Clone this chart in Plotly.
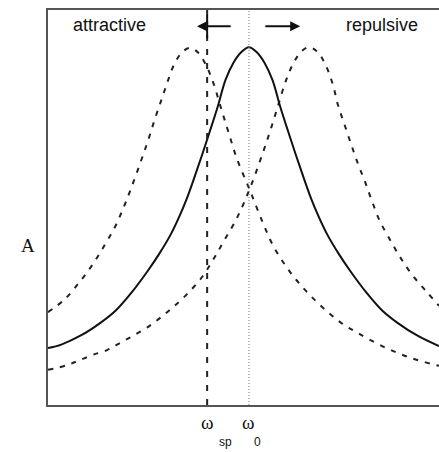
import plotly.graph_objects as go

# Frequency axis (arbitrary units 0..100), amplitude axis (0..100)
solid_x = [0, 3.4, 8.4, 13.4, 17.4, 21.4, 25.4, 28.4, 31.4, 33.4, 35.4, 37.4, 39.4, 41.4, 43.4, 45.4, 47.4, 49.4, 51.4,
           53.4, 55.4, 57.4, 59.4, 61.4, 63.4, 65.4, 67.4, 69.4, 71.4, 74.4, 77.4, 81.4, 85.4, 89.4, 94.4, 100]
solid_y = [14.4, 15.3, 17.6, 20.8, 24.0, 28.5, 33.8, 38.2, 43.2, 47.3, 52.0, 57.5, 63.3, 69.3, 75.5, 82.3, 86.6, 89.3, 90.6,
           89.3, 86.6, 82.3, 75.5, 69.3, 63.3, 57.5, 52.0, 47.3, 43.2, 38.2, 33.8, 28.5, 24.0, 20.8, 17.6, 14.9]

attr_x = [0, 4.3, 8.2, 11.5, 14.6, 17.1, 19.2, 21.0, 23.5, 25.6, 27.4, 29.2, 30.7, 32.3, 34.3, 36.3,
          38.3, 40.3, 42.3, 44.3, 46.3, 48.3, 51.7, 55.0, 57.5, 60.6, 63.9, 67.5, 71.6, 75.4, 79.3, 85.7, 92.6, 100]
attr_y = [23.5, 26.8, 31.3, 35.7, 40.7, 45.0, 49.7, 54.2, 61.0, 67.0, 72.6, 77.8, 82.2, 86.3, 89.3, 90.4,
          89.3, 86.3, 81.5, 75.0, 68.6, 62.4, 54.2, 46.0, 40.5, 35.5, 31.2, 27.3, 23.5, 20.5, 18.2, 14.8, 12.0, 9.9]

rep_x = [0, 4.9, 8.2, 11.5, 15.1, 18.4, 21.7, 25.3, 28.6, 32.0, 35.5, 39.4, 42.2, 44.8, 48.3, 51.7, 55.0, 56.8, 58.6,
         60.8, 62.8, 64.8, 66.8, 68.8, 70.8, 72.8, 74.2, 76.0, 77.7, 79.3, 81.1, 82.9, 84.9, 87.5, 90.0, 93.1, 96.9, 100]
rep_y = [8.9, 10.1, 11.4, 12.7, 13.9, 15.7, 17.5, 19.6, 22.0, 24.8, 28.0, 32.4, 36.7, 41.2, 47.3, 55.0, 64.0, 69.3, 75.0,
         82.0, 86.6, 89.5, 90.6, 89.5, 86.5, 81.3, 75.8, 70.5, 65.5, 61.0, 56.5, 51.5, 46.5, 41.8, 37.5, 33.0, 28.6, 25.1]

omega_sp = 40.7
omega_0 = 51.4
y_label = "A"

fig = go.Figure()
fig.add_trace(go.Scatter(x=attr_x, y=attr_y, mode="lines", line=dict(color="#222", width=2, dash="5px,7px", shape="spline"), hoverinfo="skip"))
fig.add_trace(go.Scatter(x=rep_x, y=rep_y, mode="lines", line=dict(color="#222", width=2, dash="5px,7px", shape="spline"), hoverinfo="skip"))
fig.add_trace(go.Scatter(x=solid_x, y=solid_y, mode="lines", line=dict(color="#111", width=2, shape="spline"), hoverinfo="skip"))

# vertical reference lines
fig.add_shape(type="line", x0=omega_sp, x1=omega_sp, y0=0, y1=100, line=dict(color="#222", width=2, dash="6px,8px"))
fig.add_shape(type="line", x0=omega_sp, x1=omega_sp, y0=92.9, y1=99.2, line=dict(color="#111", width=2))
fig.add_shape(type="line", x0=omega_0, x1=omega_0, y0=0, y1=100, line=dict(color="#777", width=1, dash="1px,2px"))

txtfont = dict(family="Liberation Sans, Arial, sans-serif", size=18, color="#111")
fig.add_annotation(x=15.7, y=96.3, text="attractive", showarrow=False, font=txtfont)
fig.add_annotation(x=85.3, y=96.3, text="repulsive", showarrow=False, font=txtfont)

# arrows
fig.add_annotation(x=38.1, y=95.9, ax=47.1, ay=95.9, axref="x", ayref="y", xref="x", yref="y",
                   text="", showarrow=True, arrowhead=2, arrowsize=1, arrowwidth=2, arrowcolor="#111")
fig.add_annotation(x=64.5, y=95.9, ax=55.2, ay=95.9, axref="x", ayref="y", xref="x", yref="y",
                   text="", showarrow=True, arrowhead=2, arrowsize=1, arrowwidth=2, arrowcolor="#111")

serif = dict(family="Liberation Serif, Times New Roman, serif", size=19, color="#111")
fig.add_annotation(xref="paper", yref="y", x=0, y=40.5, xshift=-29, text=y_label, showarrow=False, font=serif)
wfont = dict(family="Liberation Serif, serif", size=19, color="#111")
subfont = dict(family="Liberation Sans, Arial, sans-serif", size=12, color="#111")
fig.add_annotation(x=omega_sp, y=0, yshift=-17, text="ω", showarrow=False, font=wfont)
fig.add_annotation(x=omega_sp, y=0, yshift=-37, xshift=18, text="sp", showarrow=False, font=subfont)
fig.add_annotation(x=omega_0, y=0, yshift=-17, text="ω", showarrow=False, font=wfont)
fig.add_annotation(x=omega_0, y=0, yshift=-37, xshift=9, text="0", showarrow=False, font=subfont)

fig.update_layout(
    width=439, height=452,
    margin=dict(l=48, r=0, t=10, b=47),
    paper_bgcolor="white", plot_bgcolor="white",
    showlegend=False,
    xaxis=dict(range=[0, 100], showgrid=False, zeroline=False, showticklabels=False, ticks="",
               showline=True, mirror=True, linecolor="#555", linewidth=2),
    yaxis=dict(range=[0, 100], showgrid=False, zeroline=False, showticklabels=False, ticks="",
               showline=True, mirror=False, linecolor="#555", linewidth=2),
)
fig.write_html("out.html")
